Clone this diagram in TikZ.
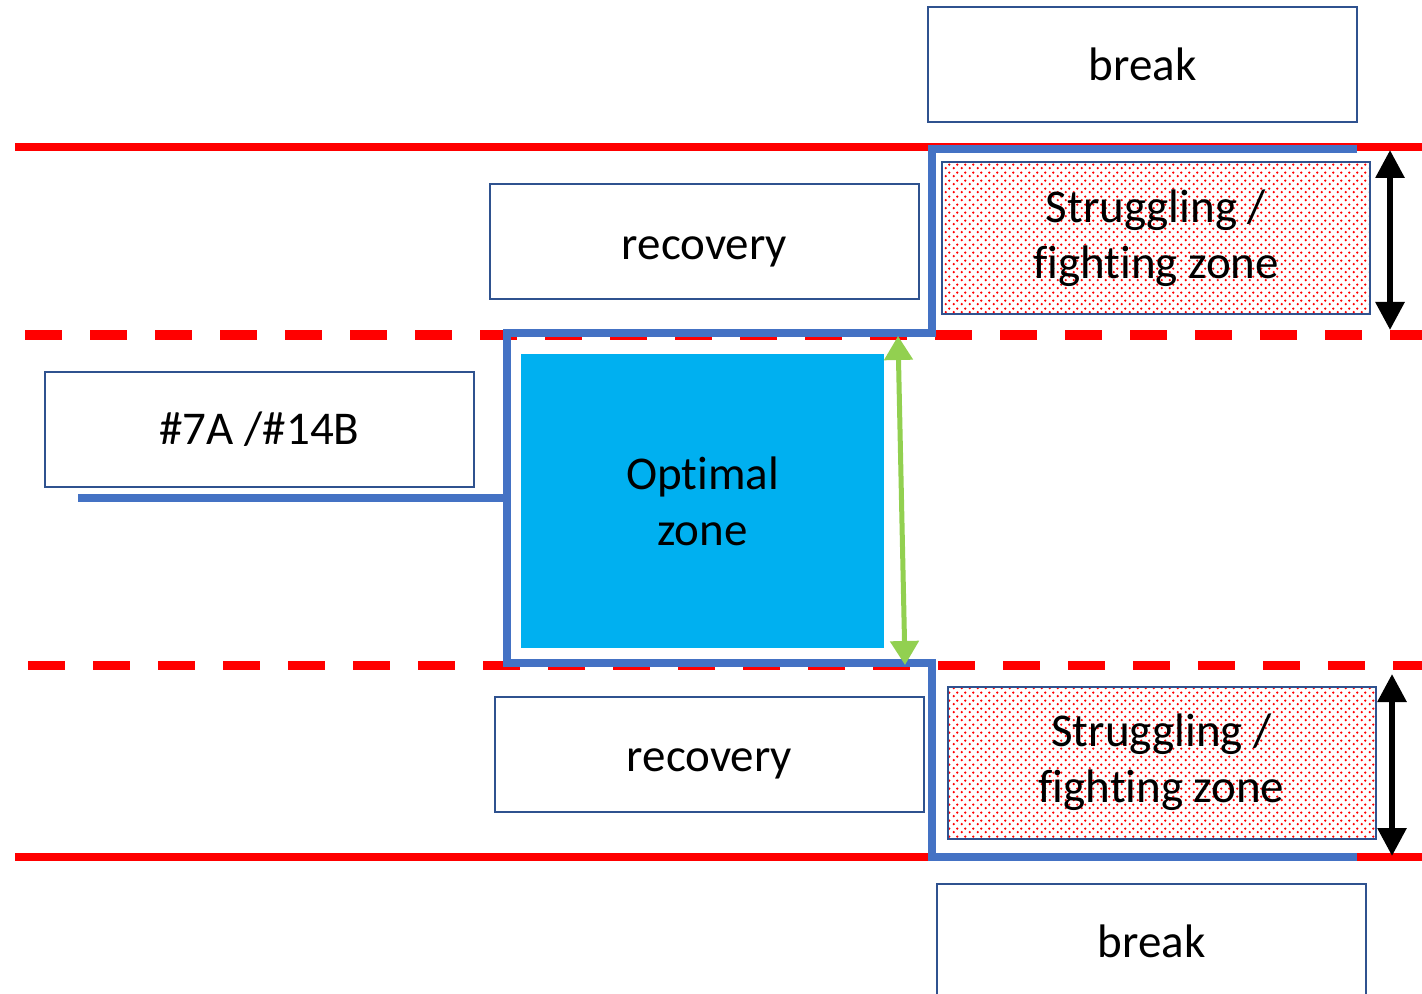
\documentclass[tikz,border=0pt]{standalone}
\usepackage{fontspec}
\setmainfont{Carlito}[RawFeature=-liga]
\usetikzlibrary{patterns,arrows.meta}
\definecolor{lineblue}{HTML}{4472C4}
\definecolor{boxblue}{HTML}{2F528F}
\definecolor{optblue}{HTML}{00B0F0}
\definecolor{arrgreen}{HTML}{92D050}
\definecolor{redline}{HTML}{FF0000}
\pgfdeclarepatternformonly{reddots}{\pgfqpoint{0pt}{0pt}}{\pgfqpoint{4pt}{4pt}}{\pgfqpoint{4pt}{4pt}}{%
  \pgfpathcircle{\pgfqpoint{1pt}{1pt}}{0.7pt}%
  \pgfpathcircle{\pgfqpoint{3pt}{3pt}}{0.7pt}%
  \pgfusepath{fill}}
\tikzset{
  txt/.style={font=\fontsize{23.5}{28}\selectfont, align=center, inner sep=0pt},
  box/.style={draw=boxblue, line width=1pt, fill=white, inner sep=0pt,
    minimum width=214.5pt, minimum height=57.5pt, txt},
  strugglebox/.style={box, pattern=reddots, pattern color=redline, minimum width=214pt, minimum height=76pt},
  optbox/.style={fill=optblue, inner sep=0pt, minimum width=181.5pt, minimum height=147pt, txt},
  redsolid/.style={draw=redline, line width=4pt},
  reddash/.style={draw=redline, line width=4.5pt, dash pattern=on 18.5pt off 14pt},
  bluepath/.style={draw=lineblue, line width=4pt, line join=miter},
  blackarrow/.style={draw=black, line width=3pt, {Triangle[width=14pt,length=14pt]}-{Triangle[width=14pt,length=14pt]}},
  greenarrow/.style={draw=arrgreen, line width=2.5pt, {Triangle[width=14pt,length=12pt]}-{Triangle[width=14pt,length=12pt]}},
}
\begin{document}
\begin{tikzpicture}[x=0.5pt,y=-0.5pt]
\clip (0,0) rectangle (1422,994);
\fill[white] (0,0) rectangle (1422,994);
% red lines
\draw[redsolid] (15,147) -- (1422,147);
\draw[redsolid] (15,857) -- (1422,857);
\draw[reddash] (25,335) -- (1422,335);
\draw[reddash] (28,665) -- (1422,665);
% boxes
\node[box] (break1) at (1142.5,64.5) {break};
\node[box, label={[txt,yshift=-5pt]center:recovery}] (rec1) at (704.5,242) {};
\node[box] (id) at (259.5,429.5) {\#7A /\#14B};
\node[box, label={[txt,yshift=-5pt]center:recovery}] (rec2) at (709.5,754) {};
\node[box] (break2) at (1151.5,941.5) {break};
\node[strugglebox] (str1) at (1156,238) {Struggling /\\fighting zone};
\node[strugglebox] (str2) at (1161.5,762.5) {Struggling /\\fighting zone};
\node[optbox] (opt) at (702.5,501) {Optimal\\zone};
% blue path
\draw[bluepath] (1357,149) -- (932,149) -- (932,333) -- (507,333) -- (507,663) -- (932,663) -- (932,857) -- (1357,857);
\draw[bluepath] (507,498) -- (78,498);
% arrows
\coordinate (ga1) at (898,336);
\coordinate (ga2) at (905,665);
\draw[greenarrow] (ga1) -- (ga2);
\coordinate (ba1) at (1390,150);
\coordinate (ba2) at (1390,330);
\draw[blackarrow] (ba1) -- (ba2);
\coordinate (ba3) at (1392,674);
\coordinate (ba4) at (1392,856);
\draw[blackarrow] (ba3) -- (ba4);
\end{tikzpicture}
\end{document}
